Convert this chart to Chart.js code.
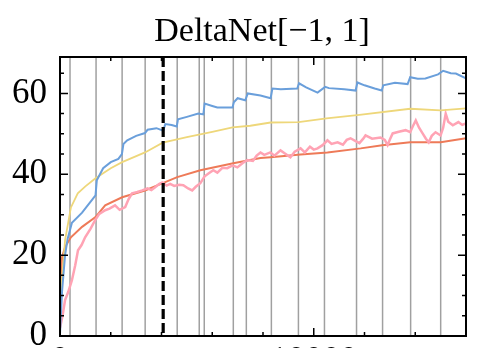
<!DOCTYPE html>
<html>
<head>
<meta charset="utf-8">
<script src="https://cdn.jsdelivr.net/npm/chart.js@4"></script>
<style>
  html, body { margin: 0; padding: 0; background: #fff; overflow: hidden; }
  #wrap { width: 479px; height: 390px; }
</style>
</head>
<body>
<div id="wrap"><canvas id="c" width="479" height="390"></canvas></div>
<script>
// training steps vs accuracy
const chartTitle = 'DeltaNet[\u22121, 1]'
const xTicks = [0, 10000]
const yTicks = [0, 20, 40, 60]

// restart marks (gray) and the dashed marker
const restarts = [395, 1421, 2448, 3356, 4619, 5487, 5685, 6830, 7343, 8330, 9396, 10422, 11686, 12712, 13818, 15002]
const marker = 4066

const blue = [[0,0.5],[80,11],[200,20],[300,24],[470,28],[870,30.5],[1300,34],[1400,34.8],[1450,38.5],[1700,41.5],[2000,43],
  [2300,43.8],[2440,45],[2500,47.5],[2650,48.4],[3000,49.5],[3350,50.2],[3450,51],[3800,51.4],[4066,50.8],[4150,52.4],
  [4400,52.2],[4600,51.8],[4650,53.6],[5000,54.2],[5450,55],[5650,54.8],[5700,57.5],[6000,56.9],[6200,56.5],[6800,56.5],
  [6850,57.8],[7000,58.8],[7300,58.3],[7400,60],[7900,59.5],[8300,58.8],[8370,61.2],[8700,61],[9350,61.2],[9420,62.5],
  [9700,61.5],[10150,60.2],[10450,61.6],[10600,61.3],[11200,61],[11650,60.7],[11720,62.7],[12000,62],[12400,61.2],
  [12680,60.7],[12740,62],[13200,62.6],[13700,62.3],[13800,64],[14100,63.6],[14400,63.7],[14900,64.7],[15100,65.6],
  [15400,65],[15600,64.9],[16000,63.7]]

const yellow = [[0,3],[80,14],[200,23.7],[430,31.8],[700,35.3],[1000,37],[1400,39],[2000,41.5],[2450,43],[3350,45.4],
  [4050,47.8],[5000,49.2],[6000,50.5],[6800,51.6],[7500,52],[8300,52.8],[9400,52.9],[10500,53.8],[11800,54.7],
  [13800,56.2],[15000,55.8],[16000,56.3]]

const orange = [[0,2],[80,19.5],[200,22],[430,24.4],[870,27],[1400,29.4],[1780,32.3],[2450,34.3],[3350,36],[4050,37.8],
  [4620,39.3],[5530,41],[6830,42.7],[7900,44],[8300,44.2],[9480,44.9],[10540,45.4],[11850,46.4],[12700,47.2],
  [13800,47.9],[15000,47.9],[16000,48.9]]

const pink = [[0,2],[100,5],[200,8.9],[330,11],[470,13.8],[600,17.5],[710,21.2],[850,22.5],[990,24.4],[1200,26.5],
  [1380,28.6],[1550,30.2],[1780,31.1],[1950,31.5],[2170,32.3],[2350,31.2],[2570,31.9],[2700,33.8],[2840,35.3],[3050,35.6],
  [3240,36],[3450,36.5],[3600,36.1],[3750,36.8],[3900,37.6],[4030,38],[4200,37.2],[4340,37.6],[4500,37.1],[4700,37.4],
  [4860,37.3],[5050,36.5],[5210,36],[5350,36.9],[5530,37.8],[5700,39.5],[5850,40.2],[6040,41],[6200,40.4],[6400,41.6],
  [6590,41.5],[6800,42.2],[6990,41.7],[7200,42.8],[7380,43.5],[7600,43.3],[7750,44.6],[7900,45.4],[8050,44.8],[8290,45.4],
  [8450,44.6],[8690,45.9],[8850,45.2],[9080,44.2],[9250,45.6],[9480,46.4],[9650,45.4],[9850,46.8],[10000,46.1],
  [10150,46.4],[10350,47.2],[10540,48.4],[10700,47.5],[10940,47.9],[11150,47.3],[11300,48.5],[11450,48.9],[11650,48.2],
  [11800,47.7],[11950,48.8],[12040,49.6],[12300,48.8],[12630,49.1],[12800,48.5],[12910,47.2],[13000,48.6],[13110,50.1],
  [13350,50.5],[13620,50.9],[13800,50.4],[13900,51.8],[14020,53.3],[14150,51.5],[14290,50.1],[14420,48.8],[14530,47.9],
  [14650,49.5],[14800,50.4],[15000,49.6],[15100,51.5],[15200,55],[15300,53],[15480,52.1],[15700,52.9],[15850,52.2],
  [16000,52.6]]

const toPoints = (arr) => arr.map(([x, y]) => ({x, y}))

const line = (data, color, width) => ({
    data: toPoints(data),
    borderColor: color,
    borderWidth: width,
    pointRadius: 0,
    tension: 0,
    fill: false
})

// frame, inward ticks, restart lines and title
const decor = {
    id: 'decor',
    beforeDatasetsDraw(chart) {
        const {ctx, chartArea: a, scales: {x}} = chart
        ctx.save()
        ctx.strokeStyle = '#a0a0a0'
        ctx.lineWidth = 1.5
        restarts.forEach(v => {
            const px = x.getPixelForValue(v)
            ctx.beginPath(); ctx.moveTo(px, a.top); ctx.lineTo(px, a.bottom); ctx.stroke()
        })
        ctx.restore()
    },
    afterDatasetsDraw(chart) {
        const {ctx, chartArea: a, scales: {x, y}} = chart
        ctx.save()
        // dashed marker
        const mx = x.getPixelForValue(marker)
        ctx.strokeStyle = '#000'
        ctx.lineWidth = 3.2
        ctx.setLineDash([10, 4])
        ctx.beginPath(); ctx.moveTo(mx, a.top); ctx.lineTo(mx, a.bottom); ctx.stroke()
        ctx.setLineDash([])

        ctx.lineWidth = 1.5
        for (let v = 0; v <= 69; v += 5) {
            const py = y.getPixelForValue(v)
            const len = v % 20 === 0 ? 8 : 4
            ctx.beginPath()
            ctx.moveTo(a.left, py); ctx.lineTo(a.left + len, py)
            ctx.moveTo(a.right, py); ctx.lineTo(a.right - len, py)
            ctx.stroke()
        }
        for (let v = 0; v <= 16000; v += 2000) {
            const px = x.getPixelForValue(v)
            const len = v % 10000 === 0 ? 8 : 4
            ctx.beginPath()
            ctx.moveTo(px, a.bottom); ctx.lineTo(px, a.bottom - len)
            ctx.moveTo(px, a.top); ctx.lineTo(px, a.top + len)
            ctx.stroke()
        }
        ctx.lineWidth = 2
        ctx.strokeRect(a.left, a.top, a.right - a.left, a.bottom - a.top)

        ctx.fillStyle = '#000'
        ctx.font = '34px "Liberation Serif", serif'
        ctx.textAlign = 'center'
        ctx.textBaseline = 'alphabetic'
        ctx.fillText(chartTitle, 262, 41)
        ctx.restore()
    }
}

const ctx = document.getElementById('c').getContext('2d')
new Chart(ctx, {
    type: 'line',
    data: {
        datasets: [
            line(blue, '#6a9fdb', 2),
            line(yellow, '#eed77a', 1.8),
            line(pink, '#ffa3b4', 2.5),
            line(orange, '#ee7a58', 2)
        ]
    },
    options: {
        responsive: false,
        animation: false,
        layout: {padding: {left: 0, right: 13, top: 57, bottom: 0}},
        plugins: {legend: {display: false}, title: {display: false}, tooltip: {enabled: false}},
        scales: {
            x: {
                type: 'linear',
                min: 0,
                max: 16000,
                afterBuildTicks: (s) => { s.ticks = xTicks.map(v => ({value: v})) },
                afterFit: (s) => { s.height = 54 },
                grid: {display: false, drawTicks: false},
                border: {display: false},
                ticks: {
                    padding: 5,
                    maxRotation: 0,
                    autoSkip: false,
                    color: '#000',
                    font: {family: '"Liberation Serif", serif', size: 35},
                    callback: (v) => String(v)
                }
            },
            y: {
                min: 0,
                max: 69,
                afterBuildTicks: (s) => { s.ticks = yTicks.map(v => ({value: v})) },
                afterFit: (s) => { s.width = 60 },
                grid: {display: false, drawTicks: false},
                border: {display: false},
                ticks: {
                    padding: 13,
                    color: '#000',
                    font: {family: '"Liberation Serif", serif', size: 35}
                }
            }
        }
    },
    plugins: [decor]
})
</script>
</body>
</html>
